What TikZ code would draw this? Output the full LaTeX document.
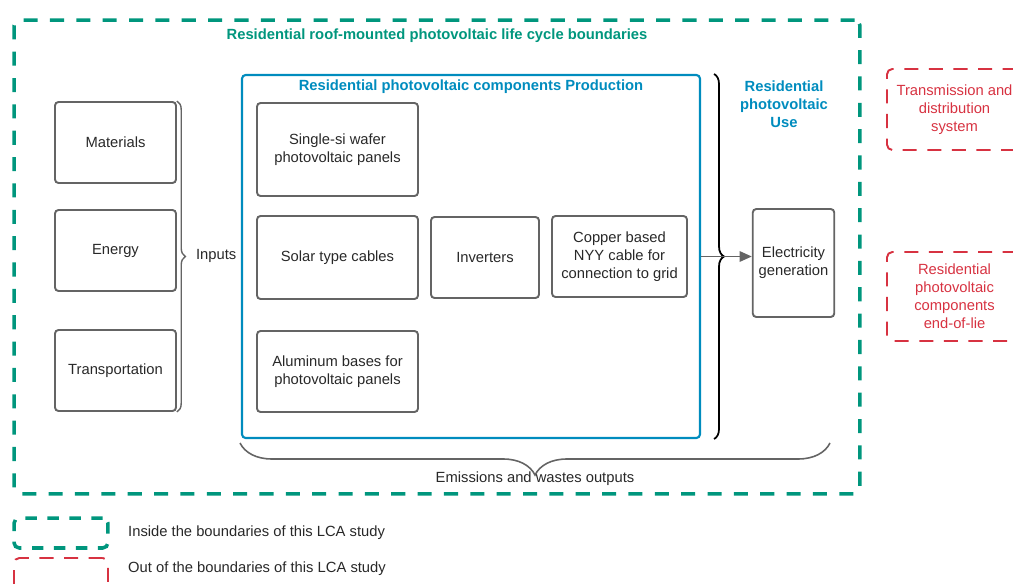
\documentclass[tikz,border=0pt]{standalone}
\usepackage{fontspec}
\setmainfont{Liberation Sans}
\usetikzlibrary{positioning,arrows.meta,decorations.pathreplacing}

\definecolor{lcagreen}{RGB}{0,150,125}
\definecolor{pvblue}{RGB}{0,140,190}
\definecolor{outred}{RGB}{215,50,65}
\definecolor{boxgray}{RGB}{100,100,100}
\definecolor{textgray}{RGB}{40,40,40}
\newcommand{\lcafont}{\fontsize{8.4}{10.2}\selectfont}

\tikzset{
  stagebox/.style={rectangle, draw=boxgray, line width=1.1pt, rounded corners=2pt},
  inbox/.style={rectangle, draw=lcagreen, line width=2pt, dash pattern=on 8pt off 7pt, rounded corners=3pt},
  outbox/.style={rectangle, draw=outred, line width=1.1pt, dash pattern=on 8pt off 6pt, rounded corners=3pt, text=outred},
  pvtitle/.style={font=\lcafont\bfseries},
  bracket/.style={decorate, decoration={brace, amplitude=#1}}
}

\begin{document}
\begin{tikzpicture}[x=0.02cm, y=-0.02cm, every node/.style={align=center, font=\lcafont, text=textgray}]
\useasboundingbox (0,0) rectangle (1013,584);
\clip (0,0) rectangle (1013,584);

% Boundary frames
\node (lcb) [inbox, minimum width=16.92cm, minimum height=9.48cm] at (437,257) {};
\node (lcbtitle) [pvtitle, text=lcagreen] at (437,36) {Residential roof-mounted photovoltaic life cycle boundaries};
\node (prod) [rectangle, draw=pvblue, line width=1.2pt, rounded corners=2pt, minimum width=9.16cm, minimum height=7.26cm] at (471,256.5) {};
\node (prodtitle) [pvtitle, text=pvblue] at (471,87) {Residential photovoltaic components Production};
\node (usetitle) [pvtitle, text=pvblue] at (784,104) {Residential\\ photovoltaic\\ Use};

% Input nodes
\node (mat) [stagebox, minimum width=2.42cm, minimum height=1.62cm] at (115.5,142.5) {Materials};
\node (energy) [stagebox, minimum width=2.42cm, minimum height=1.62cm] at (115.5,250.5) {Energy};
\node (trans) [stagebox, minimum width=2.42cm, minimum height=1.62cm] at (115.5,370.5) {Transportation};
\node (inputs) [anchor=west, inner sep=1pt] at (194,256) {Inputs};

% Component nodes
\node (wafer) [stagebox, minimum width=3.22cm, minimum height=1.86cm] at (337.5,149.5) {Single-si wafer\\ photovoltaic panels};
\node (cables) [stagebox, minimum width=3.22cm, minimum height=1.66cm] at (337.5,257.5) {Solar type cables};
\node (inverters) [stagebox, minimum width=2.16cm, minimum height=1.62cm] at (485,257.5) {Inverters};
\node (copper) [stagebox, minimum width=2.7cm, minimum height=1.62cm] at (619.5,256.5) {Copper based\\ NYY cable for\\ connection to grid};
\node (alu) [stagebox, minimum width=3.22cm, minimum height=1.62cm] at (337.5,371.5) {Aluminum bases for\\ photovoltaic panels};

% Use node
\node (elec) [stagebox, minimum width=1.62cm, minimum height=2.16cm] at (793.5,263) {Electricity\\ generation};

% Out of boundary nodes
\node (grid) [outbox, minimum width=2.7cm, minimum height=1.62cm] at (954.5,109.5) {Transmission and\\ distribution\\ system};
\node (eol) [outbox, minimum width=2.7cm, minimum height=1.78cm] at (954.5,296.5) {Residential\\ photovoltaic\\ components\\ end-of-lie};

% Braces
\draw[boxgray, line width=0.8pt, bracket=0.17cm] (mat.north east) -- (trans.south east);
\draw[black, line width=1pt, bracket=0.2cm] ([xshift=0.26cm]prod.north east) -- ([xshift=0.26cm]prod.south east);
\coordinate (outr) at (830,443);
\coordinate (outl) at (240,443);
\draw[boxgray, line width=0.9pt, bracket=0.64cm] (outr) -- (outl);
\node (outputs) at (535,479) {Emissions and wastes outputs};

% Arrows
\draw[boxgray, line width=1pt, -{Triangle[length=7pt, width=6pt]}] (prod.east) -- (prod.east -| elec.west);

% Legend
\node (legin) [inbox, dash pattern=on 6.5pt off 6pt, minimum width=1.88cm, minimum height=0.6cm] at (61,533) {};
\node (leginlabel) [anchor=west] at (122,533) {Inside the boundaries of this LCA study};
\node (legout) [outbox, minimum width=1.88cm, minimum height=0.7cm] at (61,575.5) {};
\node (legoutlabel) [anchor=west] at (122,569) {Out of the boundaries of this LCA study};

\end{tikzpicture}
\end{document}
